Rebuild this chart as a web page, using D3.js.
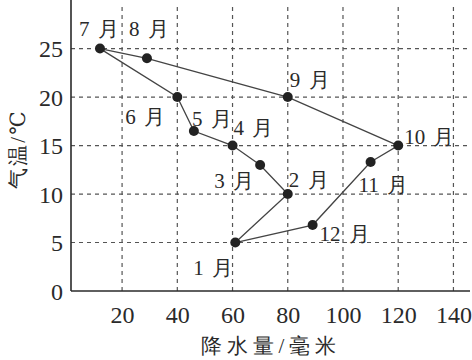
<!DOCTYPE html>
<html lang="en"><head><meta charset="utf-8">
<script src="https://cdn.jsdelivr.net/npm/d3@7"></script>
<style>body{margin:0;background:#fff}svg{display:block}</style>
</head><body>
<svg id="c" width="472" height="360"></svg>
<script>
const months = ["1 月","2 月","3 月","4 月","5 月","6 月","7 月","8 月","9 月","10 月","11 月","12 月"];
const precip = [61, 80, 70, 60, 46, 40, 12, 29, 80, 120, 110, 89];
const temp   = [5, 10, 13, 15, 16.5, 20, 25, 24, 20, 15, 13.3, 6.8];
const xTicks = [20, 40, 60, 80, 100, 120, 140];
const yTicks = [0, 5, 10, 15, 20, 25];
// label offsets (dx, dy) relative to point, in px
const labelOff = [[-42,32],[1,-7],[-46,23],[1,-11],[-2,-5],[-52,27],[-21,-13],[-18,-22],[2,-10],[6,-2],[-12,30],[7,16]];

const svg = d3.select("#c");
const x = d3.scaleLinear().domain([1.5, 146]).range([71, 470]);
const y = d3.scaleLinear().domain([0, 29.7]).range([291, 3]);
const serif = "'Liberation Serif','Times New Roman','DejaVu Serif',serif";
const ink = "#2a2a2a";

// grid
svg.append("g").selectAll("line").data(yTicks.filter(d=>d>0)).join("line")
  .attr("x1", x(1.5)).attr("x2", 470).attr("y1", d=>y(d)).attr("y2", d=>y(d))
  .attr("stroke", "#555").attr("stroke-width", 1.2).attr("stroke-dasharray", "4,4");
svg.append("g").selectAll("line").data(xTicks).join("line")
  .attr("x1", d=>x(d)).attr("x2", d=>x(d)).attr("y1", y(0)).attr("y2", 5)
  .attr("stroke", "#555").attr("stroke-width", 1.2).attr("stroke-dasharray", "4,4");

// axes
const xAxis = d3.axisBottom(x).tickValues(xTicks).tickSize(0).tickPadding(15);
const gx = svg.append("g").attr("transform", `translate(0,${y(0)})`).call(xAxis);
gx.attr("font-family", null).attr("font-size", null);
gx.select(".domain").attr("stroke", ink).attr("stroke-width", 1.6).attr("d", `M71,0H470`);
gx.selectAll("text").style("font-family", serif).style("font-size", "24px").attr("fill", ink);

const yAxis = d3.axisLeft(y).tickValues(yTicks).tickSize(0).tickPadding(8);
const gy = svg.append("g").attr("transform", `translate(${x(1.5)},0)`).call(yAxis);
gy.attr("font-family", null).attr("font-size", null);
gy.select(".domain").attr("stroke", ink).attr("stroke-width", 1.6).attr("d", `M0,${y(0)}V0`);
gy.selectAll("text").style("font-family", serif).style("font-size", "24px").attr("fill", ink).attr("dy", "0.35em");

// line (closed loop)
const pts = precip.map((p,i)=>[x(p), y(temp[i])]);
svg.append("path").attr("d", d3.line()(pts.concat([pts[0]])))
  .attr("fill", "none").attr("stroke", "#444").attr("stroke-width", 1.3);

svg.append("g").selectAll("circle").data(pts).join("circle")
  .attr("cx", d=>d[0]).attr("cy", d=>d[1]).attr("r", 5).attr("fill", "#222");

// month labels
svg.append("g").selectAll("text").data(months).join("text")
  .attr("x", (d,i)=>pts[i][0] + labelOff[i][0])
  .attr("y", (d,i)=>pts[i][1] + labelOff[i][1])
  .style("font-family", serif).style("font-size", "21px").style("word-spacing", "3px").attr("fill", ink)
  .text(d=>d);

// axis titles
svg.append("text").attr("x", 271).attr("y", 353).attr("text-anchor", "middle")
  .style("font-family", serif).style("font-size", "21px").style("letter-spacing", "5px").attr("fill", ink).text("降水量/毫米");
svg.append("text").attr("transform", "translate(25,149) rotate(-90)").attr("text-anchor", "middle")
  .style("font-family", serif).style("font-size", "21px").style("letter-spacing", "2px").attr("fill", ink).text("气温/℃");
</script>
</body></html>
